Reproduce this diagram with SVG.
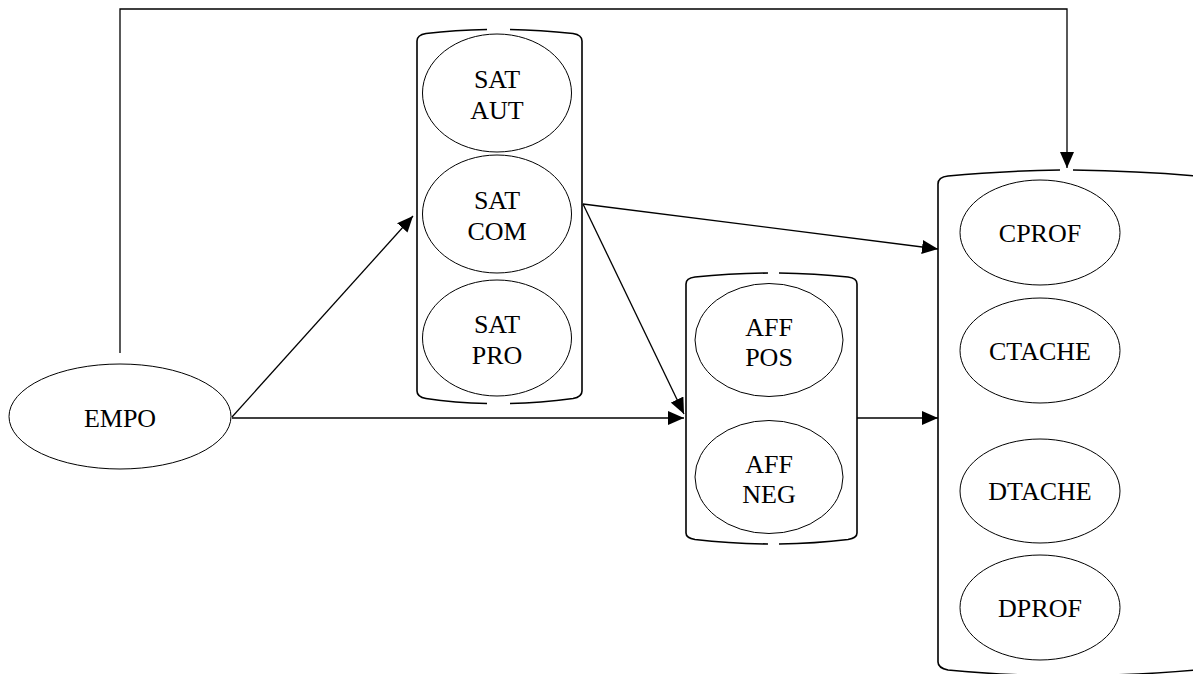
<svg xmlns="http://www.w3.org/2000/svg" width="1193" height="674" viewBox="0 0 1193 674">
<style>
.n{fill:#fff;stroke:#000;stroke-width:1}
.t{font-family:"Liberation Serif","Times New Roman",serif;font-size:26px;fill:#000;text-anchor:middle}
.c{fill:none;stroke:#000;stroke-width:1.6}
.e{fill:none;stroke:#000;stroke-width:1.3}
</style>
<defs>
<marker id="ah" markerUnits="userSpaceOnUse" markerWidth="16" markerHeight="14" refX="16" refY="7" orient="auto">
<path d="M0,0 L16,7 L0,14 z" fill="#000"/>
</marker>
</defs>
<g id="container-sat">
<path class="c" d="M487,29.5 Q455,30 426,33.5 Q417,35 417,41 L417,391 Q417,397 426,398.5 Q455,403 487,403.5 M510,403.5 Q540,403 573,398.5 Q582,397 582,391 L582,41 Q582,35 573,33.5 Q540,30 510,29.5"/>
</g>
<g id="container-aff">
<path class="c" d="M768,273 Q730,273.5 695,277 Q686,278 686,284 L686,533 Q686,538 695,539.5 Q730,543.5 768,544 M779,544 Q815,543.5 848,539.5 Q857,538 857,533 L857,284 Q857,278 848,277 Q815,273.5 779,273"/>
</g>
<g id="container-out">
<path class="c" d="M1060,170 Q1000,171 948,176 Q938,177 938,184 L938,662 Q938,668 948,670 Q1000,675 1060,676 M1073,676 Q1140,675 1196,670 Q1206,668 1206,662 L1206,184 Q1206,177 1196,176 Q1140,171 1073,170"/>
</g>
<g id="connectors">
<path class="e" d="M120,353 V9 H1067 V168" marker-end="url(#ah)"/>
<line class="e" x1="232" y1="417" x2="413" y2="216" marker-end="url(#ah)"/>
<line class="e" x1="232" y1="418" x2="684" y2="418" marker-end="url(#ah)"/>
<line class="e" x1="583" y1="204" x2="938" y2="249" marker-end="url(#ah)"/>
<line class="e" x1="583" y1="204" x2="684" y2="414" marker-end="url(#ah)"/>
<line class="e" x1="857" y1="418" x2="938" y2="418" marker-end="url(#ah)"/>
</g>
<g id="empo">
<ellipse class="n" cx="120" cy="416.5" rx="111" ry="52.5"/>
<text class="t" x="120" y="427">EMPO</text>
</g>
<g id="sat-aut">
<ellipse class="n" cx="497" cy="93" rx="74.5" ry="59"/>
<text class="t" x="497" y="88">SAT</text>
<text class="t" x="497" y="119">AUT</text>
</g>
<g id="sat-com">
<ellipse class="n" cx="497" cy="214" rx="74.5" ry="59"/>
<text class="t" x="497" y="209">SAT</text>
<text class="t" x="497" y="240">COM</text>
</g>
<g id="sat-pro">
<ellipse class="n" cx="497" cy="338" rx="74.5" ry="58"/>
<text class="t" x="497" y="333">SAT</text>
<text class="t" x="497" y="364">PRO</text>
</g>
<g id="aff-pos">
<ellipse class="n" cx="769" cy="340" rx="74" ry="56.5"/>
<text class="t" x="769" y="336">AFF</text>
<text class="t" x="769" y="366">POS</text>
</g>
<g id="aff-neg">
<ellipse class="n" cx="769" cy="477" rx="74" ry="56.5"/>
<text class="t" x="769" y="473">AFF</text>
<text class="t" x="769" y="503">NEG</text>
</g>
<g id="cprof">
<ellipse class="n" cx="1040" cy="232.5" rx="80" ry="52.5"/>
<text class="t" x="1040" y="242">CPROF</text>
</g>
<g id="ctache">
<ellipse class="n" cx="1040" cy="350.5" rx="80" ry="52.5"/>
<text class="t" x="1040" y="360">CTACHE</text>
</g>
<g id="dtache">
<ellipse class="n" cx="1040" cy="491" rx="80" ry="52"/>
<text class="t" x="1040" y="500">DTACHE</text>
</g>
<g id="dprof">
<ellipse class="n" cx="1040" cy="607.5" rx="80" ry="52.5"/>
<text class="t" x="1040" y="617">DPROF</text>
</g>
</svg>
